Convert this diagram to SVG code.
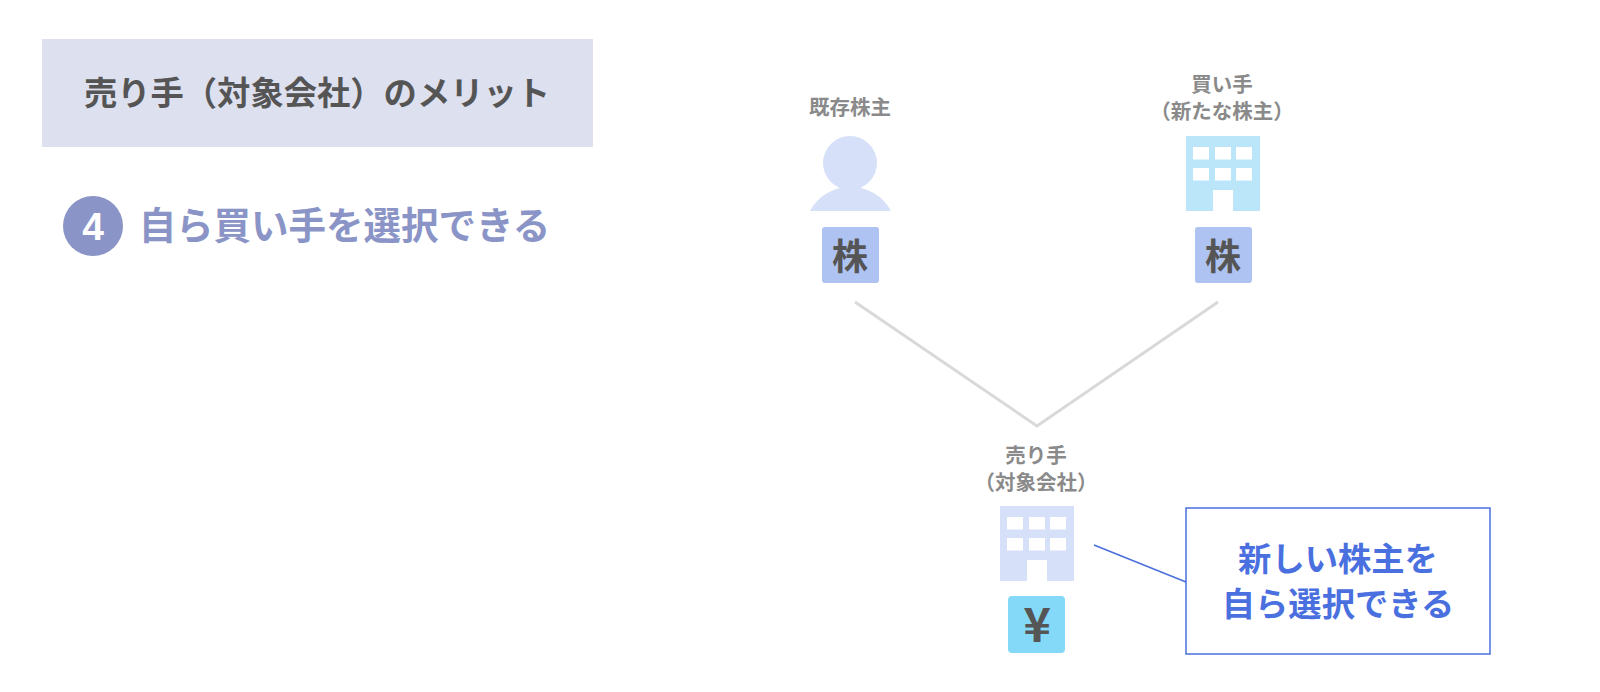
<svg xmlns="http://www.w3.org/2000/svg" width="1600" height="692" viewBox="0 0 1600 692">
<style>
text{font-family:"Noto Sans CJK JP","Noto Sans",sans-serif;font-weight:700;text-anchor:middle}
.lbl{font-size:20.5px;fill:#8a8a8a}
.dark{fill:#555}
.blue{font-size:33.3px;fill:#4a70e0}
.win{fill:#fff}
.link{fill:none;stroke:#d9d9d9;stroke-width:3}
.call{fill:none;stroke:#4a6fdc;stroke-width:1.5}
</style>
<defs>
<g id="bld">
<rect x="7" y="11" width="16" height="12.5" class="win"/><rect x="29" y="11" width="16" height="12.5" class="win"/><rect x="50" y="11" width="16" height="12.5" class="win"/>
<rect x="7" y="32" width="16" height="12.5" class="win"/><rect x="29" y="32" width="16" height="12.5" class="win"/><rect x="50" y="32" width="16" height="12.5" class="win"/>
<rect x="27" y="54" width="20" height="21" class="win"/>
</g>
</defs>
<g id="header"><rect x="42" y="39" width="551" height="108" fill="#dde0ef"/><text x="317" y="105" font-size="33.3" class="dark">売り手（対象会社）のメリット</text></g>
<g id="point"><circle cx="93" cy="226" r="30" fill="#8a94c6"/><text x="93" y="240" font-size="39" fill="#fff" style="font-family:'Liberation Sans',sans-serif">4</text><text x="344.5" y="239" font-size="37.5" fill="#8a94c6">自ら買い手を選択できる</text></g>
<g id="connectors"><path class="link" d="M855 302L1037 426L1218 302"/><path class="call" d="M1094 545L1186 582"/></g>
<g id="existing"><text x="850" y="115" class="lbl">既存株主</text><circle cx="850" cy="163" r="27" fill="#d6e0f8"/><path d="M810 211A46 46 0 0 1 891 211Z" fill="#d6e0f8"/><rect x="822" y="227" width="57" height="56" rx="3" fill="#aec3f2"/><text x="850" y="270" font-size="36" class="dark">株</text></g>
<g id="buyer"><text x="1222" y="92" class="lbl">買い手</text><text x="1222" y="119" class="lbl">（新たな株主）</text><rect x="1186" y="136" width="74" height="75" fill="#bbe6fa"/><use href="#bld" x="1186" y="136"/><rect x="1195" y="227" width="57" height="56" rx="3" fill="#aec3f2"/><text x="1223" y="270" font-size="36" class="dark">株</text></g>
<g id="seller"><text x="1036" y="463" class="lbl">売り手</text><text x="1036" y="490" class="lbl">（対象会社）</text><rect x="1000" y="506" width="74" height="75" fill="#d6e0f8"/><use href="#bld" x="1000" y="506"/><rect x="1008" y="596" width="57" height="57" rx="4" fill="#85d9f8"/><text x="1037" y="642" font-size="47" class="dark">¥</text></g>
<g id="callout"><rect x="1186" y="508" width="304" height="146" fill="#fff" class="call"/><text x="1338" y="571" class="blue">新しい株主を</text><text x="1338" y="616" class="blue">自ら選択できる</text></g>
</svg>
